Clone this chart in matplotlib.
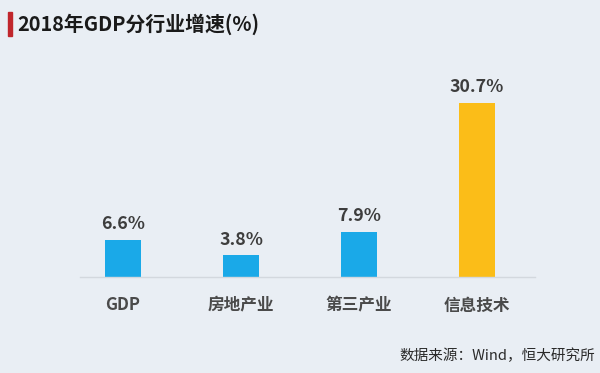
import matplotlib.pyplot as plt

plt.rcParams['font.family'] = ['Noto Sans CJK SC', 'DejaVu Sans']

# data
categories = ['GDP', '房地产业', '第三产业', '信息技术']
growth = [6.6, 3.8, 7.9, 30.7]
bar_colors = ['#1aa9e8', '#1aa9e8', '#1aa9e8', '#fbbd18']

bg = '#e9eef4'
fig = plt.figure(figsize=(6, 3.73), dpi=100, facecolor=bg)
ax = fig.add_axes([80 / 600, 1 - 277 / 373, 455 / 600, 197 / 373], facecolor=bg)

x = list(range(len(categories)))
bars = ax.bar(x, growth, width=0.31, color=bar_colors, zorder=2)

for b, v in zip(bars, growth):
    ax.annotate(f'{v}%', (b.get_x() + b.get_width() / 2, v),
                xytext=(0, 5), textcoords='offset points',
                ha='center', va='bottom', fontsize=12.8, fontweight='bold',
                color='#3d3d3d')

ax.set_xlim(-0.364, 3.49)
ax.set_ylim(0, 34.76)
ax.set_xticks(x)
ax.set_xticklabels(categories, fontsize=12, fontweight='bold', color='#4a4a4a')
ax.tick_params(axis='x', length=0, pad=14)
ax.set_yticks([])
for s in ['top', 'right', 'left']:
    ax.spines[s].set_visible(False)
ax.spines['bottom'].set_color('#d3d8de')
ax.spines['bottom'].set_linewidth(1)

# title with red marker
fig.patches.append(plt.Rectangle((8 / 600, 1 - 36 / 373), 4 / 600, 24 / 373,
                                 transform=fig.transFigure, color='#c0262c'))
fig.text(17 / 600, 1 - 24 / 373, '2018年GDP分行业增速(%)', fontsize=14.3,
         fontweight='bold', color='#1a1a1a', va='center', ha='left')

fig.text(595 / 600, 1 - 356 / 373, '数据来源：Wind，恒大研究所', fontsize=10.5,
         color='#2a2a2a', va='center', ha='right')

fig.savefig('out.png', dpi=100, facecolor=bg)
